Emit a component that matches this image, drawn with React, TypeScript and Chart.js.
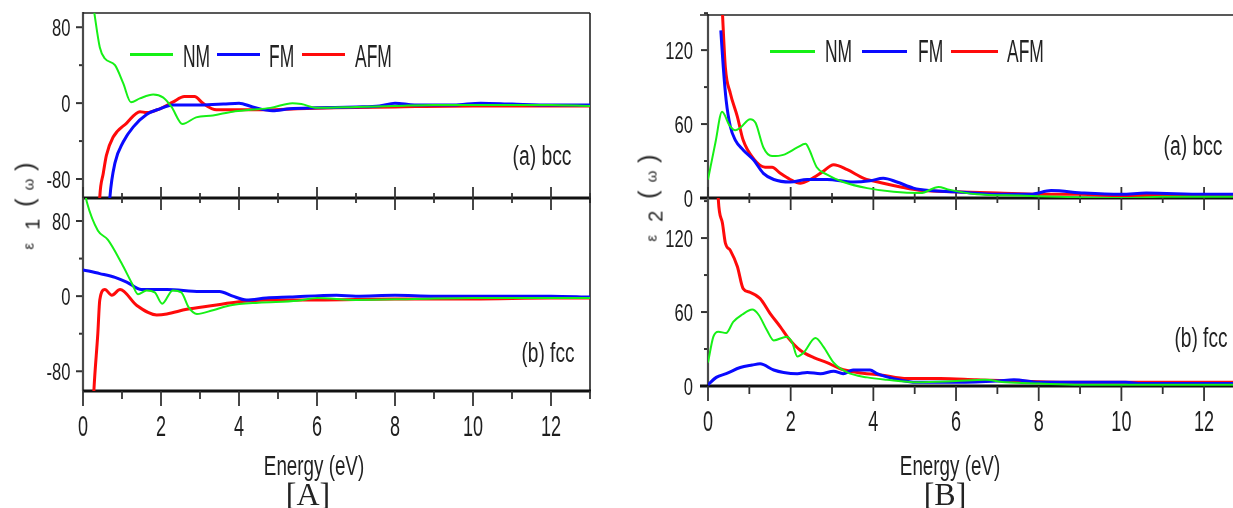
import React, { useEffect, useRef } from "react";
import { Chart, registerables } from "chart.js";

Chart.register(...registerables);

const FONT = '"Liberation Sans", Arial, sans-serif';
const SERIF = '"Liberation Serif", "Times New Roman", serif';

const GREEN = "#16f016";
const BLUE = "#0a0aff";
const RED = "#ff0a0a";

// ---------- tick labels ----------
const xLabelsA = [0, 2, 4, 6, 8, 10, 12];
const xMinorA = [1, 3, 5, 7, 9, 11, 13];
const xLabelsB = [0, 2, 4, 6, 8, 10, 12];
const xMinorB = [1, 3, 5, 7, 9, 11];
const yLabelsE1 = [-80, 0, 80];
const yMinorE1 = [-40, 40];
const yLabelsE2 = [0, 60, 120];
const yMinorE2 = [30, 90, 150];

// ---------- [A] (a) bcc : epsilon1 ----------
const bccE1_NM_E = [0.2, 0.28, 0.43, 0.56, 0.82, 1.03, 1.23, 1.46, 1.8, 2.05, 2.27, 2.55, 2.9, 3.33, 3.84, 4.3, 4.8, 5.37, 5.6, 6.0, 7.0, 8.0, 9.0, 10.0, 11.0, 12.0, 13.0];
const bccE1_NM = [120, 98, 59, 47, 40, 21, 1, 5, 9, 6, -4, -22, -15, -13, -9, -7, -5, 0, -1, -5, -4, -3, -2, -2, -2, -2, -3];
const bccE1_FM_E = [0.66, 0.69, 0.82, 1.03, 1.29, 1.63, 1.97, 2.3, 3.0, 3.6, 4.0, 4.35, 4.86, 5.3, 6.0, 7.0, 7.6, 8.0, 8.5, 9.5, 10.2, 11.0, 12.0, 13.0];
const bccE1_FM = [-120, -99, -63, -41, -25, -12, -6, -2, -2, -1, 0, -4, -8, -6, -5, -4, -3, 0, -2, -2, 0, -1, -2, -2];
const bccE1_AFM_E = [0.4, 0.43, 0.52, 0.6, 0.77, 1.12, 1.46, 1.63, 1.97, 2.3, 2.6, 2.86, 3.07, 3.42, 4.0, 4.7, 5.5, 6.5, 8.0, 10.0, 12.0, 13.0];
const bccE1_AFM = [-130, -99, -74, -55, -36, -21, -9, -10, -6, 1, 7, 7, 0, -7, -7, -7, -6, -5, -4, -3, -3, -3];

// ---------- [A] (b) fcc : epsilon1 ----------
const fccE1_NM_E = [0.05, 0.1, 0.38, 0.64, 0.99, 1.25, 1.41, 1.63, 1.84, 2.03, 2.3, 2.52, 2.71, 2.92, 3.33, 3.76, 4.5, 5.5, 6.0, 7.0, 8.5, 10.0, 12.0, 13.0];
const fccE1_NM = [110, 100, 70, 60, 35, 14, 2, 6, 4, -8, 6, 4, -12, -19, -15, -10, -7, -5, -2, -4, -3, -2, -2, -2];
const fccE1_FM_E = [0.0, 0.43, 0.82, 1.12, 1.5, 2.15, 3.0, 3.5, 3.84, 4.19, 4.7, 5.3, 6.5, 7.0, 8.0, 9.0, 10.0, 11.0, 12.0, 13.0];
const fccE1_FM = [28, 24, 20, 15, 7, 7, 5, 5, 0, -4, -2, -1, 1, 0, 1, 0, 0, 0, 0, -1];
const fccE1_AFM_E = [0.25, 0.28, 0.38, 0.43, 0.56, 0.74, 0.95, 1.38, 1.89, 2.15, 2.66, 3.33, 4.0, 4.7, 6.0, 8.0, 10.0, 12.0, 13.0];
const fccE1_AFM = [-130, -100, -40, -4, 7, 1, 7, -10, -20, -19, -14, -10, -6, -4, -4, -3, -3, -2, -2];

// ---------- [B] (a) bcc : epsilon2 ----------
const bccE2_NM_E = [0.0, 0.18, 0.34, 0.52, 0.66, 0.78, 1.02, 1.15, 1.34, 1.55, 1.82, 2.16, 2.36, 2.44, 2.63, 2.88, 3.27, 3.85, 4.49, 5.14, 5.58, 5.8, 6.5, 7.5, 8.5, 10.0, 11.0, 12.7];
const bccE2_NM = [15, 45, 70, 59, 55, 57, 64, 61, 41, 34, 35, 41, 44, 40, 25, 19, 13, 8, 5, 4, 9, 7, 3, 2, 1, 0, 1, 1];
const bccE2_FM_E = [0.31, 0.37, 0.44, 0.54, 0.66, 0.85, 1.1, 1.34, 1.59, 1.99, 2.4, 2.88, 3.51, 3.92, 4.24, 4.57, 4.97, 5.38, 6.0, 7.0, 7.8, 8.3, 9.1, 10.0, 10.6, 12.0, 12.7];
const bccE2_FM = [136, 106, 79, 58, 47, 39, 31, 20, 15, 13, 15, 15, 13, 14, 16, 13, 8, 6, 5, 3, 3, 6, 4, 3, 4, 3, 3];
const bccE2_AFM_E = [0.33, 0.35, 0.42, 0.54, 0.71, 0.85, 1.1, 1.38, 1.55, 1.75, 1.99, 2.23, 2.47, 2.76, 3.04, 3.37, 3.77, 4.24, 4.66, 5.2, 5.9, 7.0, 8.0, 9.0, 10.0, 11.0, 12.7];
const bccE2_AFM = [165, 150, 106, 85, 66, 47, 32, 25, 25, 20, 15, 12, 15, 21, 27, 23, 16, 12, 9, 6, 5, 4, 3, 3, 2, 2, 2];

// ---------- [B] (b) fcc : epsilon2 ----------
const fccE2_NM_E = [0.0, 0.13, 0.25, 0.44, 0.61, 0.83, 1.07, 1.22, 1.43, 1.59, 1.91, 2.04, 2.16, 2.31, 2.6, 2.79, 3.04, 3.37, 3.85, 4.33, 5.06, 6.0, 6.7, 7.2, 8.0, 9.0, 10.0, 12.7];
const fccE2_NM = [19, 40, 44, 43, 52, 58, 62, 58, 45, 37, 40, 35, 24, 27, 39, 32, 19, 11, 7, 5, 3, 4, 5, 3, 2, 1, 1, 1];
const fccE2_FM_E = [0.0, 0.2, 0.44, 0.78, 1.07, 1.26, 1.59, 1.83, 2.16, 2.4, 2.72, 3.04, 3.27, 3.51, 3.92, 4.09, 4.49, 5.06, 6.0, 7.0, 7.4, 8.0, 8.5, 10.1, 10.5, 12.7];
const fccE2_FM = [1, 7, 10, 15, 17, 18, 13, 11, 10, 11, 10, 12, 10, 13, 13, 10, 6, 3, 3, 4, 5, 3, 3, 3, 2, 2];
const fccE2_AFM_E = [0.23, 0.25, 0.35, 0.42, 0.54, 0.71, 0.85, 1.02, 1.26, 1.5, 1.75, 1.94, 2.23, 2.56, 2.88, 3.2, 3.61, 4.17, 4.82, 5.62, 6.5, 7.5, 9.0, 11.0, 12.7];
const fccE2_AFM = [170, 151, 132, 116, 110, 97, 79, 76, 71, 59, 48, 39, 29, 23, 19, 14, 11, 9, 6, 6, 5, 4, 3, 3, 3];

type Series = { e: number[]; v: number[]; color: string; width: number };

type Decor = {
  top: boolean;
  right: boolean;
  ext: number;
  bottomMode: "cross" | "out";
  showX: boolean;
  labelPad: number;
  xMajor: number[];
  xMinor: number[];
  yMajor: number[];
  yMinor: number[];
};

type PanelCfg = {
  left: number;
  top: number;
  width: number;
  height: number;
  padTop: number;
  padRight: number;
  padBottom: number;
  padLeft: number;
  xMax: number;
  yMin: number;
  yMax: number;
  series: Series[];
  decor: Decor;
};

// axis lines, tick marks and stretched tick labels, positioned with the chart's own scales
const decorPlugin = {
  id: "decor",
  beforeDatasetsDraw(chart: any, _args: any, o: Decor) {
    const { ctx, chartArea: a } = chart;
    const xs = chart.scales.x;
    const ys = chart.scales.y;
    const line = (x1: number, y1: number, x2: number, y2: number, w: number, c = "#1a1a1a") => {
      ctx.beginPath();
      ctx.lineWidth = w;
      ctx.strokeStyle = c;
      ctx.moveTo(x1, y1);
      ctx.lineTo(x2, y2);
      ctx.stroke();
    };
    ctx.save();
    ctx.lineCap = "butt";
    for (const v of o.yMajor) {
      const y = ys.getPixelForValue(v);
      if (y >= a.top - 3 && y <= a.bottom + 1) line(a.left - 7, y, a.left, y, 2, "#333");
    }
    for (const v of o.yMinor) {
      const y = ys.getPixelForValue(v);
      if (y >= a.top - 3 && y <= a.bottom + 1) line(a.left - 4, y, a.left, y, 2, "#333");
    }
    line(a.left, a.top - (o.top ? 1 : 0), a.left, a.bottom, 2.2, "#4a4a4a");
    if (o.top) line(a.left - o.ext, a.top, a.right, a.top, 1.6, "#222");
    if (o.right) line(a.right, a.top, a.right, a.bottom, 1.6, "#222");
    line(a.left - o.ext, a.bottom, a.right + (o.right ? 1 : 0), a.bottom, 3, "#111");
    const b = a.bottom;
    for (const v of o.xMajor) {
      const x = xs.getPixelForValue(v);
      if (o.bottomMode === "cross") line(x, b - 11, x, b + 12, 1.8, "#333");
      else line(x, b, x, b + 15, 1.8, "#333");
    }
    for (const v of o.xMinor) {
      const x = xs.getPixelForValue(v);
      if (o.bottomMode === "cross") line(x, b - 5, x, b + 5, 1.8, "#333");
      else line(x, b, x, b + 8, 1.8, "#333");
    }

    // tick labels (condensed, tall type like the source figure)
    ctx.fillStyle = "#1e1e1e";
    ctx.font = `20px ${FONT}`;
    ctx.textAlign = "right";
    ctx.textBaseline = "alphabetic";
    for (const v of o.yMajor) {
      const y = ys.getPixelForValue(v);
      ctx.save();
      ctx.translate(a.left - o.labelPad, y + 8.5);
      ctx.scale(0.83, 1.2);
      ctx.fillText(String(v), 0, 0);
      ctx.restore();
    }
    if (o.showX) {
      ctx.font = `22px ${FONT}`;
      ctx.textAlign = "center";
      for (const v of o.xMajor) {
        const x = xs.getPixelForValue(v);
        ctx.save();
        ctx.translate(x, b + 45);
        ctx.scale(0.82, 1.33);
        ctx.fillText(String(v), 0, 0);
        ctx.restore();
      }
    }
    ctx.restore();
  },
};

function Panel({ cfg }: { cfg: PanelCfg }) {
  const ref = useRef<HTMLCanvasElement>(null);
  useEffect(() => {
    if (!ref.current) return;
    const chart = new Chart(ref.current, {
      type: "line",
      data: {
        datasets: cfg.series.map((s) => ({
          data: s.e.map((e, i) => ({ x: e, y: s.v[i] })),
          borderColor: s.color,
          borderWidth: s.width,
          pointRadius: 0,
          fill: false,
          tension: 0.3,
          cubicInterpolationMode: "monotone" as const,
        })),
      },
      options: {
        animation: false,
        responsive: false,
        events: [],
        layout: { padding: { top: cfg.padTop, right: cfg.padRight, bottom: cfg.padBottom, left: cfg.padLeft } },
        plugins: {
          legend: { display: false },
          tooltip: { enabled: false },
          decor: cfg.decor,
        } as any,
        scales: {
          x: { type: "linear", min: 0, max: cfg.xMax, display: false },
          y: { type: "linear", min: cfg.yMin, max: cfg.yMax, display: false },
        },
      },
      plugins: [decorPlugin],
    } as any);
    return () => chart.destroy();
  }, [cfg]);
  return (
    <canvas
      ref={ref}
      width={cfg.width}
      height={cfg.height}
      style={{ position: "absolute", left: cfg.left, top: cfg.top, width: cfg.width, height: cfg.height }}
    />
  );
}

const ser = (e: number[], v: number[], color: string, width: number): Series => ({ e, v, color, width });

const panels: PanelCfg[] = [
  {
    left: 0, top: 0, width: 600, height: 215, padTop: 13, padRight: 10, padBottom: 17, padLeft: 83,
    xMax: 13, yMin: -100, yMax: 95,
    series: [ser(bccE1_NM_E, bccE1_NM, GREEN, 2), ser(bccE1_FM_E, bccE1_FM, BLUE, 3), ser(bccE1_AFM_E, bccE1_AFM, RED, 3)],
    decor: { top: true, right: true, ext: 0, bottomMode: "cross", showX: false, labelPad: 12.5, xMajor: xLabelsA, xMinor: xMinorA, yMajor: yLabelsE1, yMinor: yMinorE1 },
  },
  {
    left: 0, top: 190, width: 600, height: 260, padTop: 8, padRight: 10, padBottom: 59, padLeft: 83,
    xMax: 13, yMin: -101, yMax: 104.5,
    series: [ser(fccE1_NM_E, fccE1_NM, GREEN, 2), ser(fccE1_FM_E, fccE1_FM, BLUE, 3), ser(fccE1_AFM_E, fccE1_AFM, RED, 3)],
    decor: { top: false, right: true, ext: 0, bottomMode: "out", showX: true, labelPad: 12.5, xMajor: xLabelsA, xMinor: xMinorA, yMajor: yLabelsE1, yMinor: yMinorE1 },
  },
  {
    left: 620, top: 0, width: 613, height: 215, padTop: 15, padRight: 0, padBottom: 17, padLeft: 88,
    xMax: 12.7, yMin: 0, yMax: 148.5,
    series: [ser(bccE2_NM_E, bccE2_NM, GREEN, 2), ser(bccE2_FM_E, bccE2_FM, BLUE, 3), ser(bccE2_AFM_E, bccE2_AFM, RED, 3)],
    decor: { top: true, right: false, ext: 8, bottomMode: "cross", showX: false, labelPad: 15, xMajor: xLabelsB, xMinor: xMinorB, yMajor: yLabelsE2, yMinor: yMinorE2 },
  },
  {
    left: 620, top: 190, width: 613, height: 260, padTop: 8, padRight: 0, padBottom: 64, padLeft: 88,
    xMax: 12.7, yMin: 0, yMax: 152.5,
    series: [ser(fccE2_NM_E, fccE2_NM, GREEN, 2), ser(fccE2_FM_E, fccE2_FM, BLUE, 3), ser(fccE2_AFM_E, fccE2_AFM, RED, 3)],
    decor: { top: false, right: false, ext: 8, bottomMode: "out", showX: true, labelPad: 15, xMajor: xLabelsB, xMinor: xMinorB, yMajor: yLabelsE2, yMinor: yMinorE2 },
  },
];

function Txt(props: { x: number; y: number; size: number; sx?: number; sy?: number; anchor?: "left" | "center"; family?: string; children: React.ReactNode }) {
  const { x, y, size, sx = 1, sy = 1, anchor = "left", family = FONT } = props;
  return (
    <div
      style={{
        position: "absolute",
        left: x,
        top: y,
        transformOrigin: anchor === "center" ? "50% 50%" : "0 50%",
        transform: `translate(${anchor === "center" ? "-50%" : "0"}, -50%) scale(${sx}, ${sy})`,
        fontFamily: family,
        fontSize: size,
        lineHeight: 1,
        color: "#222",
        whiteSpace: "nowrap",
      }}
    >
      {props.children}
    </div>
  );
}

function LegendLine({ x1, x2, y, color }: { x1: number; x2: number; y: number; color: string }) {
  return <div style={{ position: "absolute", left: x1, top: y - 1.5, width: x2 - x1, height: 3, background: color }} />;
}

function YTitle({ cx, cy, idx }: { cx: number; cy: number; idx: string }) {
  return (
    <div
      style={{
        position: "absolute",
        left: cx,
        top: cy,
        transform: "translate(-50%, -50%) rotate(-90deg)",
        fontFamily: FONT,
        color: "#222",
        whiteSpace: "nowrap",
        lineHeight: 1,
      }}
    >
      <span style={{ fontSize: 15 }}>ε</span>
      <span style={{ fontSize: 20, position: "relative", top: 6, margin: "0 12px 0 13px" }}>{idx}</span>
      <span style={{ fontSize: 25 }}>(</span>
      <span style={{ fontSize: 15, margin: "0 8px" }}>ω</span>
      <span style={{ fontSize: 25 }}>)</span>
    </div>
  );
}

export default function App() {
  return (
    <div style={{ position: "absolute", left: 0, top: 0, width: 1233, height: 508, background: "#fff", overflow: "hidden" }}>
      {panels.map((p, i) => (
        <Panel key={i} cfg={p} />
      ))}

      {/* legend A */}
      <LegendLine x1={130} x2={173} y={54} color={GREEN} />
      <Txt x={183} y={56} size={21} sx={0.83} sy={1.45}>NM</Txt>
      <LegendLine x1={217} x2={260} y={54} color={BLUE} />
      <Txt x={269} y={56} size={21} sx={0.83} sy={1.45}>FM</Txt>
      <LegendLine x1={302} x2={345} y={54} color={RED} />
      <Txt x={355} y={56} size={21} sx={0.83} sy={1.45}>AFM</Txt>

      {/* legend B */}
      <LegendLine x1={770} x2={815} y={51} color={GREEN} />
      <Txt x={825} y={51} size={21} sx={0.83} sy={1.45}>NM</Txt>
      <LegendLine x1={862} x2={907} y={51} color={BLUE} />
      <Txt x={918} y={51} size={21} sx={0.83} sy={1.45}>FM</Txt>
      <LegendLine x1={951} x2={998} y={51} color={RED} />
      <Txt x={1007} y={51} size={21} sx={0.83} sy={1.45}>AFM</Txt>

      {/* panel annotations */}
      <Txt x={542} y={155} size={21} sx={0.92} sy={1.3} anchor="center">(a) bcc</Txt>
      <Txt x={548} y={352} size={21} sx={0.91} sy={1.3} anchor="center">(b) fcc</Txt>
      <Txt x={1193} y={145} size={21} sx={0.92} sy={1.3} anchor="center">(a) bcc</Txt>
      <Txt x={1201} y={337} size={21} sx={0.91} sy={1.3} anchor="center">(b) fcc</Txt>

      {/* axis titles */}
      <YTitle cx={25} cy={206} idx="1" />
      <YTitle cx={648} cy={198} idx="2" />
      <Txt x={314} y={465} size={20} sx={0.94} sy={1.4} anchor="center">Energy (eV)</Txt>
      <Txt x={950} y={465} size={20} sx={0.94} sy={1.4} anchor="center">Energy (eV)</Txt>
      <Txt x={308} y={494} size={32} anchor="center" family={SERIF}>[A]</Txt>
      <Txt x={945} y={494} size={32} anchor="center" family={SERIF}>[B]</Txt>
    </div>
  );
}
